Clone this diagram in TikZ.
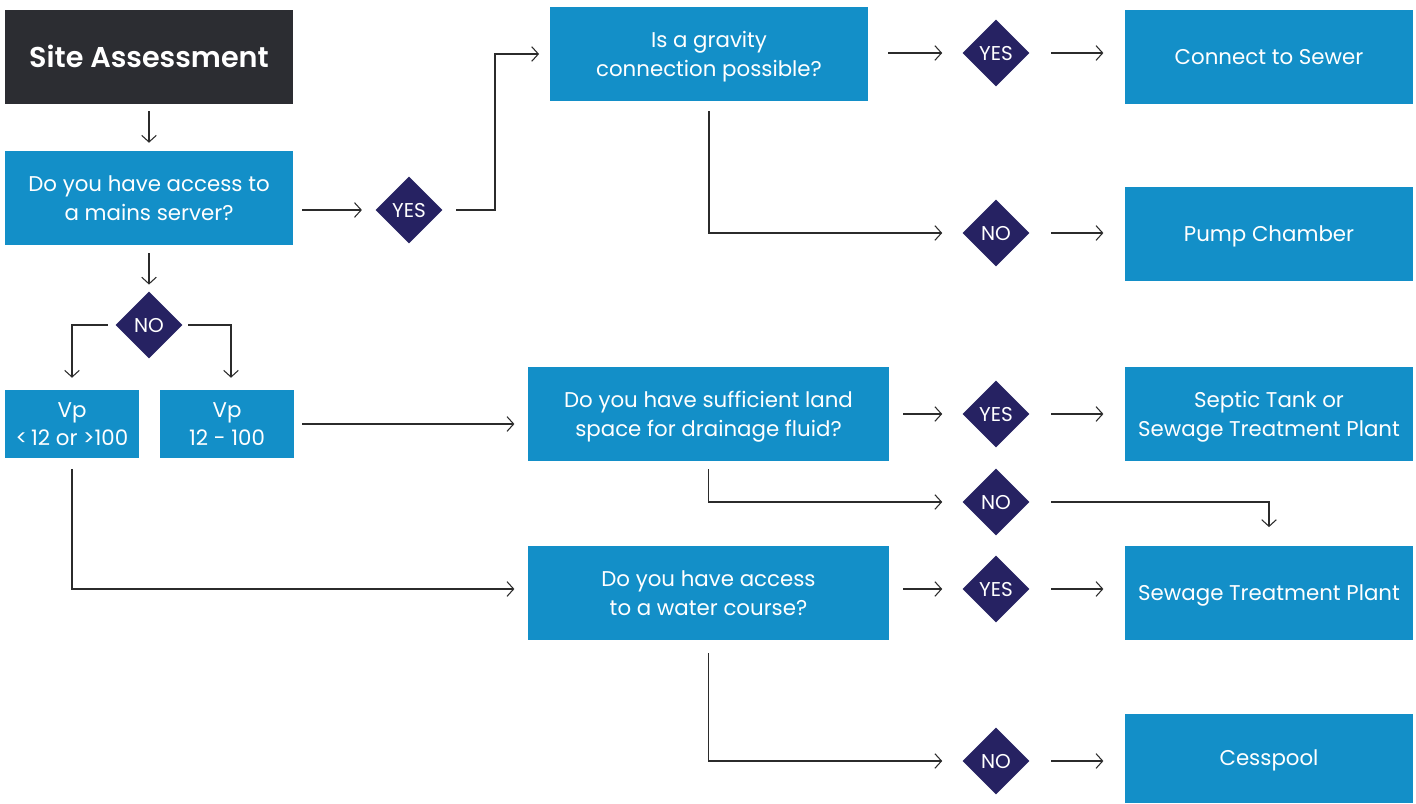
\documentclass[tikz,border=0pt]{standalone}
\usepackage{fontspec}
\setmainfont{Poppins}[BoldFont={Poppins SemiBold}]
\usetikzlibrary{arrows.meta,shapes.geometric,calc}
\definecolor{bblue}{HTML}{138FC8}
\definecolor{bdark}{HTML}{2C2D32}
\definecolor{bnavy}{HTML}{262262}
\definecolor{lgray}{HTML}{2B2B2B}
\begin{document}
\begin{tikzpicture}[x=0.75pt,y=-0.75pt,
  box/.style={fill=bblue, text=white, align=center, inner sep=0pt, text depth=0pt, font=\fontsize{16}{21.5}\selectfont},
  oneline/.style={text height=11pt, text depth=0pt},
  bigbox/.style={box, minimum width=216pt, minimum height=70.5pt},
  qbox/.style={box, minimum width=270.75pt, minimum height=70.5pt},
  vpbox/.style={box, minimum width=100.5pt, minimum height=51pt},
  dia/.style={diamond, fill=bnavy, text=white, minimum width=50.25pt, minimum height=50.25pt, inner sep=0pt, font=\fontsize{15}{16}\selectfont, text height=10.5pt, text depth=0pt},
  conn/.style={draw=lgray, line width=0.8pt, -{Straight Barb[length=5pt,width=11pt]}},
]
\useasboundingbox (0,0) rectangle (1416,803);

% boxes
\node[bigbox, oneline, fill=bdark, font=\bfseries\fontsize{21.5}{24}\selectfont, text height=15pt] (site) at (149,57) {Site Assessment};
\node[bigbox] (mains) at (149,198) {Do you have access to\\a mains server?};
\node[box, minimum width=238.5pt, minimum height=70.5pt] (grav) at (709,54) {Is a gravity\\connection possible?};
\node[bigbox, oneline] (sewer) at (1269,57) {Connect to Sewer};
\node[bigbox, oneline] (pump) at (1269,234) {Pump Chamber};
\node[vpbox] (vp1) at (72,424) {Vp\\{<}\,12 or {>}100};
\node[vpbox] (vp2) at (227,424) {Vp\\12 - 100};
\node[qbox] (suff) at (708.5,414) {Do you have sufficient land\\space for drainage fluid?};
\node[bigbox] (septic) at (1269,414) {Septic Tank or\\Sewage Treatment Plant};
\node[qbox] (water) at (708.5,593) {Do you have access\\to a water course?};
\node[bigbox, oneline] (stp) at (1269,593) {Sewage Treatment Plant};
\node[box, oneline, minimum width=216pt, minimum height=66.75pt] (cess) at (1269,758.5) {Cesspool};

% diamonds
\node[dia] (d1) at (409,210) {YES};
\node[dia] (d2) at (149,325) {NO};
\node[dia] (d3) at (996,53) {YES};
\node[dia] (d4) at (996,233) {NO};
\node[dia] (d5) at (996,414) {YES};
\node[dia] (d6) at (996,502) {NO};
\node[dia] (d7) at (996,589) {YES};
\node[dia] (d8) at (996,761) {NO};

\coordinate (k1) at (495,210);

% connectors
\draw[conn, shorten <=5.25pt, shorten >=6pt] (site) -- (mains);
\draw[conn, shorten <=6.75pt, shorten >=10pt] (mains.east |- d1) -- (d1.west);
\draw[conn, shorten <=10pt, shorten >=8pt] (d1.east) -- (k1) |- (grav.west);
\draw[conn, shorten <=6pt, shorten >=5pt] (mains) -- (d2);
\draw[conn, shorten <=5.5pt, shorten >=9pt] (d2.west) -| (vp1.north);
\draw[conn, shorten <=4pt, shorten >=9pt] (d2.east) -| ([xshift=3pt]vp2.north);
\draw[conn, shorten <=6pt, shorten >=10pt] (vp2.east) -- (vp2.east -| suff.west);
\draw[conn, shorten <=8pt, shorten >=10pt] (vp1.south) |- (water.west |- d7);
\draw[conn, shorten <=15pt, shorten >=15pt] (grav.east |- d3) -- (d3.west);
\draw[conn, shorten <=16pt, shorten >=16pt] (d3.east) -- (d3.east -| sewer.west);
\draw[conn, shorten <=7.5pt, shorten >=15pt] (grav.south) |- (d4.west);
\draw[conn, shorten <=16pt, shorten >=16pt] (d4.east) -- (d4.east -| pump.west);
\draw[conn, shorten <=10.5pt, shorten >=15pt] (suff.east |- d5) -- (d5.west);
\draw[conn, shorten <=16pt, shorten >=16pt] (d5.east) -- (d5.east -| septic.west);
\draw[conn, shorten <=6pt, shorten >=15pt] (suff.south) |- (d6.west);
\draw[conn, shorten <=16pt, shorten >=14pt] (d6.east) -| (stp.north);
\draw[conn, shorten <=10.5pt, shorten >=15pt] (water.east |- d7) -- (d7.west);
\draw[conn, shorten <=16pt, shorten >=16pt] (d7.east) -- (d7.east -| stp.west);
\draw[conn, shorten <=9.75pt, shorten >=15pt] (water.south) |- (d8.west);
\draw[conn, shorten <=16pt, shorten >=16pt] (d8.east) -- (d8.east -| cess.west);
\end{tikzpicture}
\end{document}
